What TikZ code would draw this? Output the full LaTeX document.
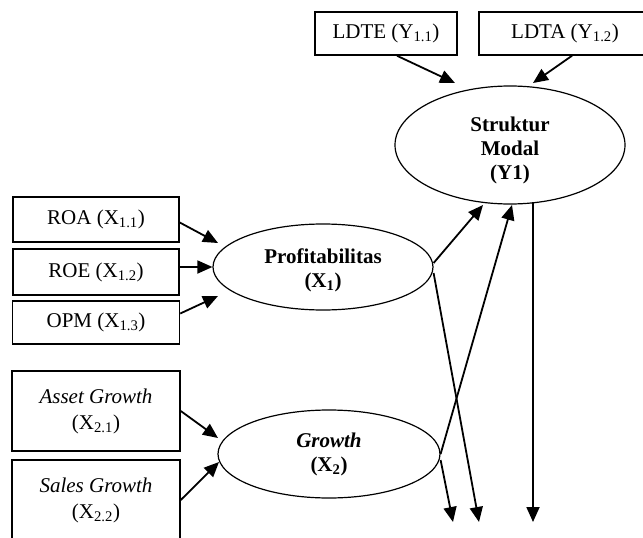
\documentclass[tikz,border=0pt]{standalone}
\usepackage{fontspec}
\setmainfont{Liberation Serif}
\usetikzlibrary{shapes.geometric,arrows.meta}
\tikzset{
    indicator/.style={draw, line width=1.5pt, inner sep=0pt, align=center, minimum height=45pt},
    construct/.style={ellipse, draw, line width=1.2pt, inner sep=0pt, align=center, font=\fontsize{21}{24}\selectfont\bfseries},
    link/.style={-{Triangle[length=15pt,width=13pt]}, line width=1.8pt}
}
\begin{document}
\begin{tikzpicture}[x=1pt,y=-1pt,font=\fontsize{21}{26}\selectfont]
                \clip (0,0) rectangle (643,538);
                % latent variables
                \node[construct, minimum width=230pt, minimum height=118pt] (struktur) at (510,145) {\rule{0pt}{26pt}Struktur\\Modal\\(Y1)};
                \node[construct, minimum width=220pt, minimum height=86pt] (prof) at (323,267) {\rule{0pt}{22pt}Profitabilitas\\(X\textsubscript{1})};
                \node[construct, minimum width=222pt, minimum height=88pt] (growth) at (329,454) {\textit{Growth}\\(X\textsubscript{2})};
                % indicators
                \node[indicator, minimum width=142pt, minimum height=43pt] (ldte) at (386,33.5) {LDTE (Y\textsubscript{1.1})};
                \node[indicator, minimum width=172pt, minimum height=43pt] (ldta) at (565,33.5) {LDTA (Y\textsubscript{1.2})};
                \node[indicator, minimum width=166pt] (roa) at (96,219.5) {ROA (X\textsubscript{1.1})};
                \node[indicator, minimum width=166pt, minimum height=46pt] (roe) at (96,272) {ROE (X\textsubscript{1.2})};
                \node[indicator, minimum width=167pt, minimum height=43pt] (opm) at (96,322.5) {OPM (X\textsubscript{1.3})};
                \node[indicator, minimum width=168pt, minimum height=80pt] (asset) at (96,411) {\textit{Asset Growth}\\(X\textsubscript{2.1})};
                \node[indicator, minimum width=168pt, minimum height=80pt] (sales) at (96,500) {\textit{Sales Growth}\\(X\textsubscript{2.2})};
                % free ends
                \coordinate (outg) at (453,522);
                \coordinate (outp) at (479,522);
                \coordinate (outs) at (533,522);
                % connectors
                \draw[link] ([xshift=11pt]ldte.south) -- ([shift={(-55,-62)}]struktur.center);
                \draw[link] ([xshift=7pt]ldta.south) -- ([shift={(23,-62)}]struktur.center);
                \draw[link] ([yshift=-3pt]roa.east) -- ([shift={(-105,-24)}]prof.center);
                \draw[link] ([yshift=5pt]roe.east) -- (prof.west);
                \draw[link] ([yshift=9pt]opm.east) -- ([shift={(-105,29)}]prof.center);
                \draw[link] (asset.east) -- ([shift={(-111,-16)}]growth.center);
                \draw[link] (sales.east) -- ([shift={(-110,8)}]growth.center);
                \draw[link] ([yshift=4pt]prof.east) -- ([shift={(-27,60)}]struktur.center);
                \draw[link] (growth.east) -- ([shift={(2,60)}]struktur.center);
                \draw[link] ([yshift=-6pt]prof.east) -- (outp);
                \draw[link] ([yshift=-6pt]growth.east) -- (outg);
                \draw[link] ([shift={(23,57)}]struktur.center) -- (outs);
            \end{tikzpicture}
\end{document}
